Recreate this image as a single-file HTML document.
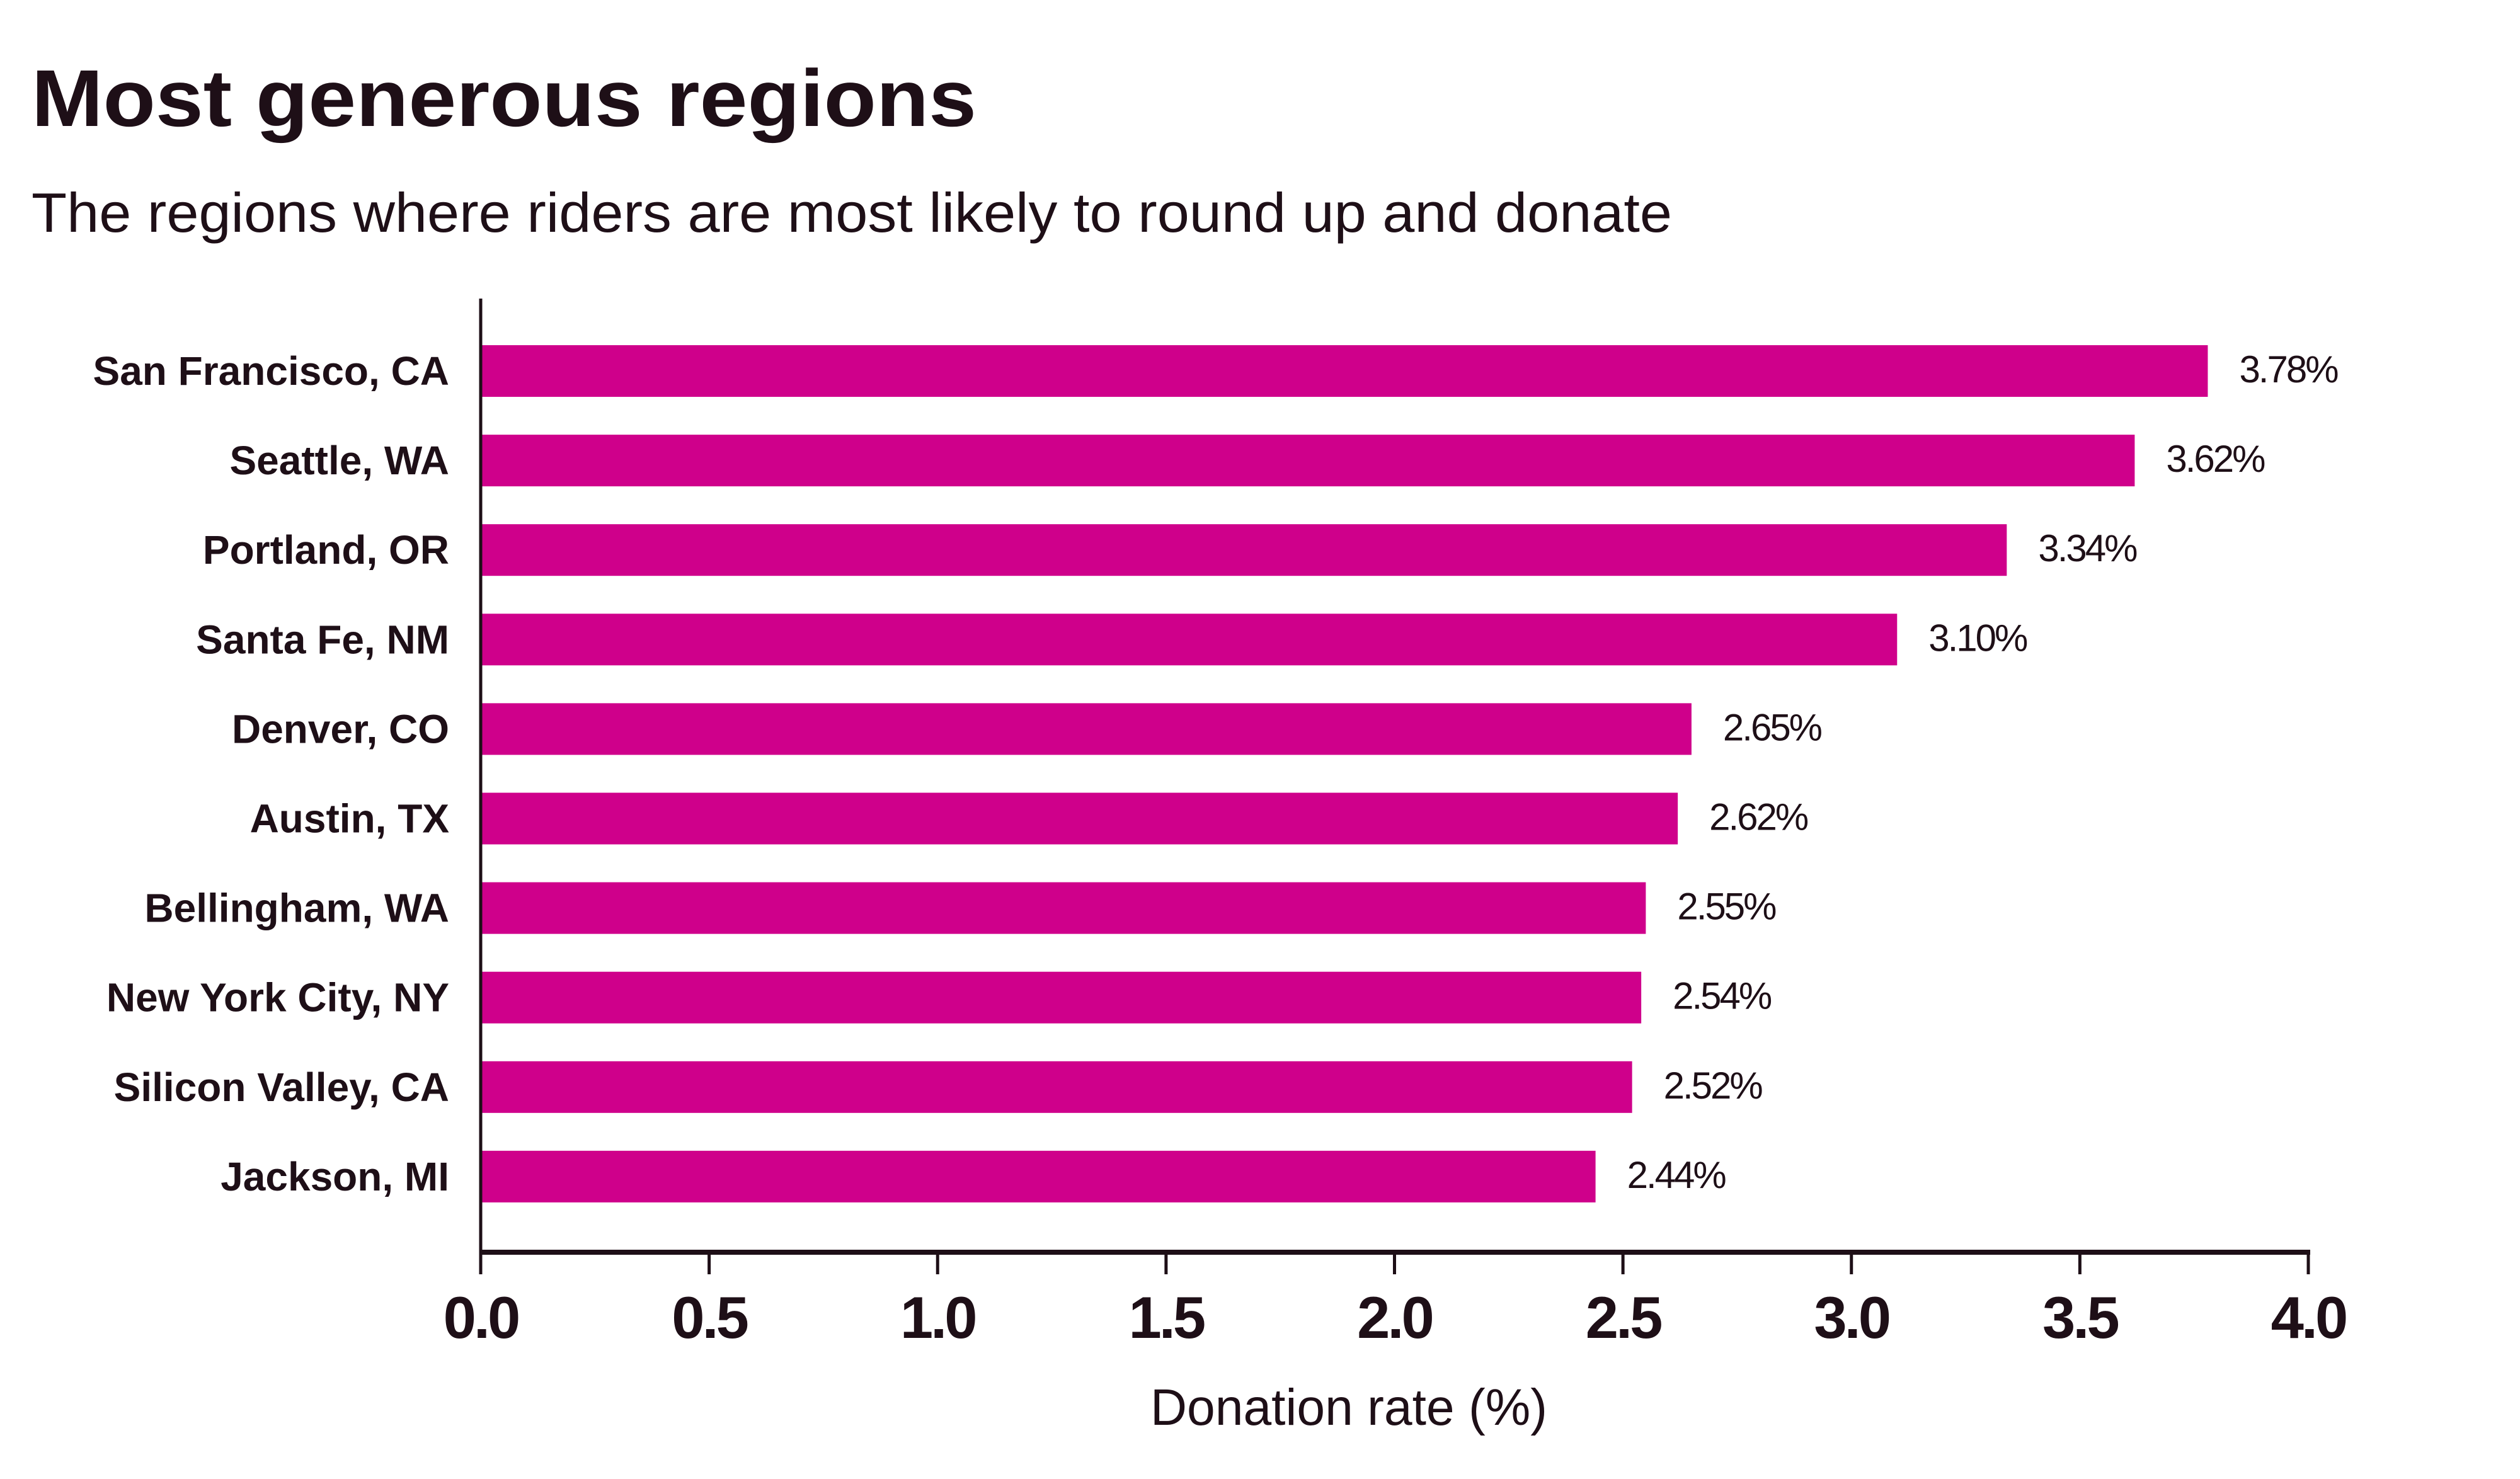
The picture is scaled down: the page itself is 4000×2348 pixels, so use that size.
<!DOCTYPE html>
<html><head><meta charset="utf-8"><style>
html,body{margin:0;padding:0;background:#fff;}
svg{display:block;font-family:"Liberation Sans",sans-serif;}
</style></head><body>
<svg id="chart" width="4000" height="2348" viewBox="0 0 4000 2348">
<rect width="4000" height="2348" fill="#fff"/>
<text x="50" y="200" font-size="128" font-weight="bold" fill="#1e0f17" textLength="1500" lengthAdjust="spacingAndGlyphs">Most generous regions</text>
<text x="50" y="368" font-size="88" fill="#1e0f17" textLength="2604" lengthAdjust="spacingAndGlyphs">The regions where riders are most likely to round up and donate</text>
<g id="bars"></g>
<g id="axes"></g>
<text x="2141" y="2262" font-size="82" fill="#1e0f17" text-anchor="middle" textLength="630" lengthAdjust="spacingAndGlyphs">Donation rate (%)</text>
</svg>
<script>
const categories = ["San Francisco, CA","Seattle, WA","Portland, OR","Santa Fe, NM","Denver, CO","Austin, TX","Bellingham, WA","New York City, NY","Silicon Valley, CA","Jackson, MI"];
const values = [3.78,3.62,3.34,3.10,2.65,2.62,2.55,2.54,2.52,2.44];
const valueLabels = ["3.78%","3.62%","3.34%","3.10%","2.65%","2.62%","2.55%","2.54%","2.52%","2.44%"];
const xTicks = [0,0.5,1.0,1.5,2.0,2.5,3.0,3.5,4.0];
const xTickLabels = ["0.0","0.5","1.0","1.5","2.0","2.5","3.0","3.5","4.0"];

const NS = "http://www.w3.org/2000/svg";
const X0 = 763, X1 = 3664, XMAX = 4;
const xScale = v => X0 + (v / XMAX) * (X1 - X0);
const BAND0 = 548, STEP = 142.1, BARH = 82;
const yScale = i => BAND0 + i * STEP;
const AXY = 1988;
const bars = document.getElementById('bars');
const axes = document.getElementById('axes');
function mk(tag, attrs, parent){ const e=document.createElementNS(NS,tag); for(const k in attrs) e.setAttribute(k,attrs[k]); parent.appendChild(e); return e; }

categories.forEach((c,i)=>{
  const y = yScale(i);
  const r = mk('rect',{x:X0,y:y,width:xScale(values[i])-X0,height:BARH,fill:'#cf008b'},bars);
  
  
  const t = mk('text',{x:713,y:y+BARH/2+22,'font-size':64,'font-weight':'bold','text-anchor':'end',fill:'#1e0f17'},bars);
  t.textContent = c;
  
  
  const v = mk('text',{x:xScale(values[i])+50,y:y+BARH/2+18,'font-size':60,fill:'#1e0f17','letter-spacing':'-3'},bars);
  v.textContent = valueLabels[i];
  
  
});

const ya = mk('line',{x1:X0,y1:474,x2:X0,y2:AXY+4,stroke:'#1e0f17','stroke-width':5},axes);


const xa = mk('line',{x1:X0-2,y1:AXY,x2:X1+3,y2:AXY,stroke:'#1e0f17','stroke-width':8},axes);


xTicks.forEach((tv,i)=>{
  const x = xScale(tv);
  const tk = mk('line',{x1:x,y1:AXY,x2:x,y2:AXY+35,stroke:'#1e0f17','stroke-width':5},axes);
  
  
  const tl = mk('text',{x:x,y:2124,'font-size':94,'font-weight':'bold','text-anchor':'middle',fill:'#1e0f17','letter-spacing':'-4'},axes);
  tl.textContent = xTickLabels[i];
  
  
});
</script>
</body></html>
